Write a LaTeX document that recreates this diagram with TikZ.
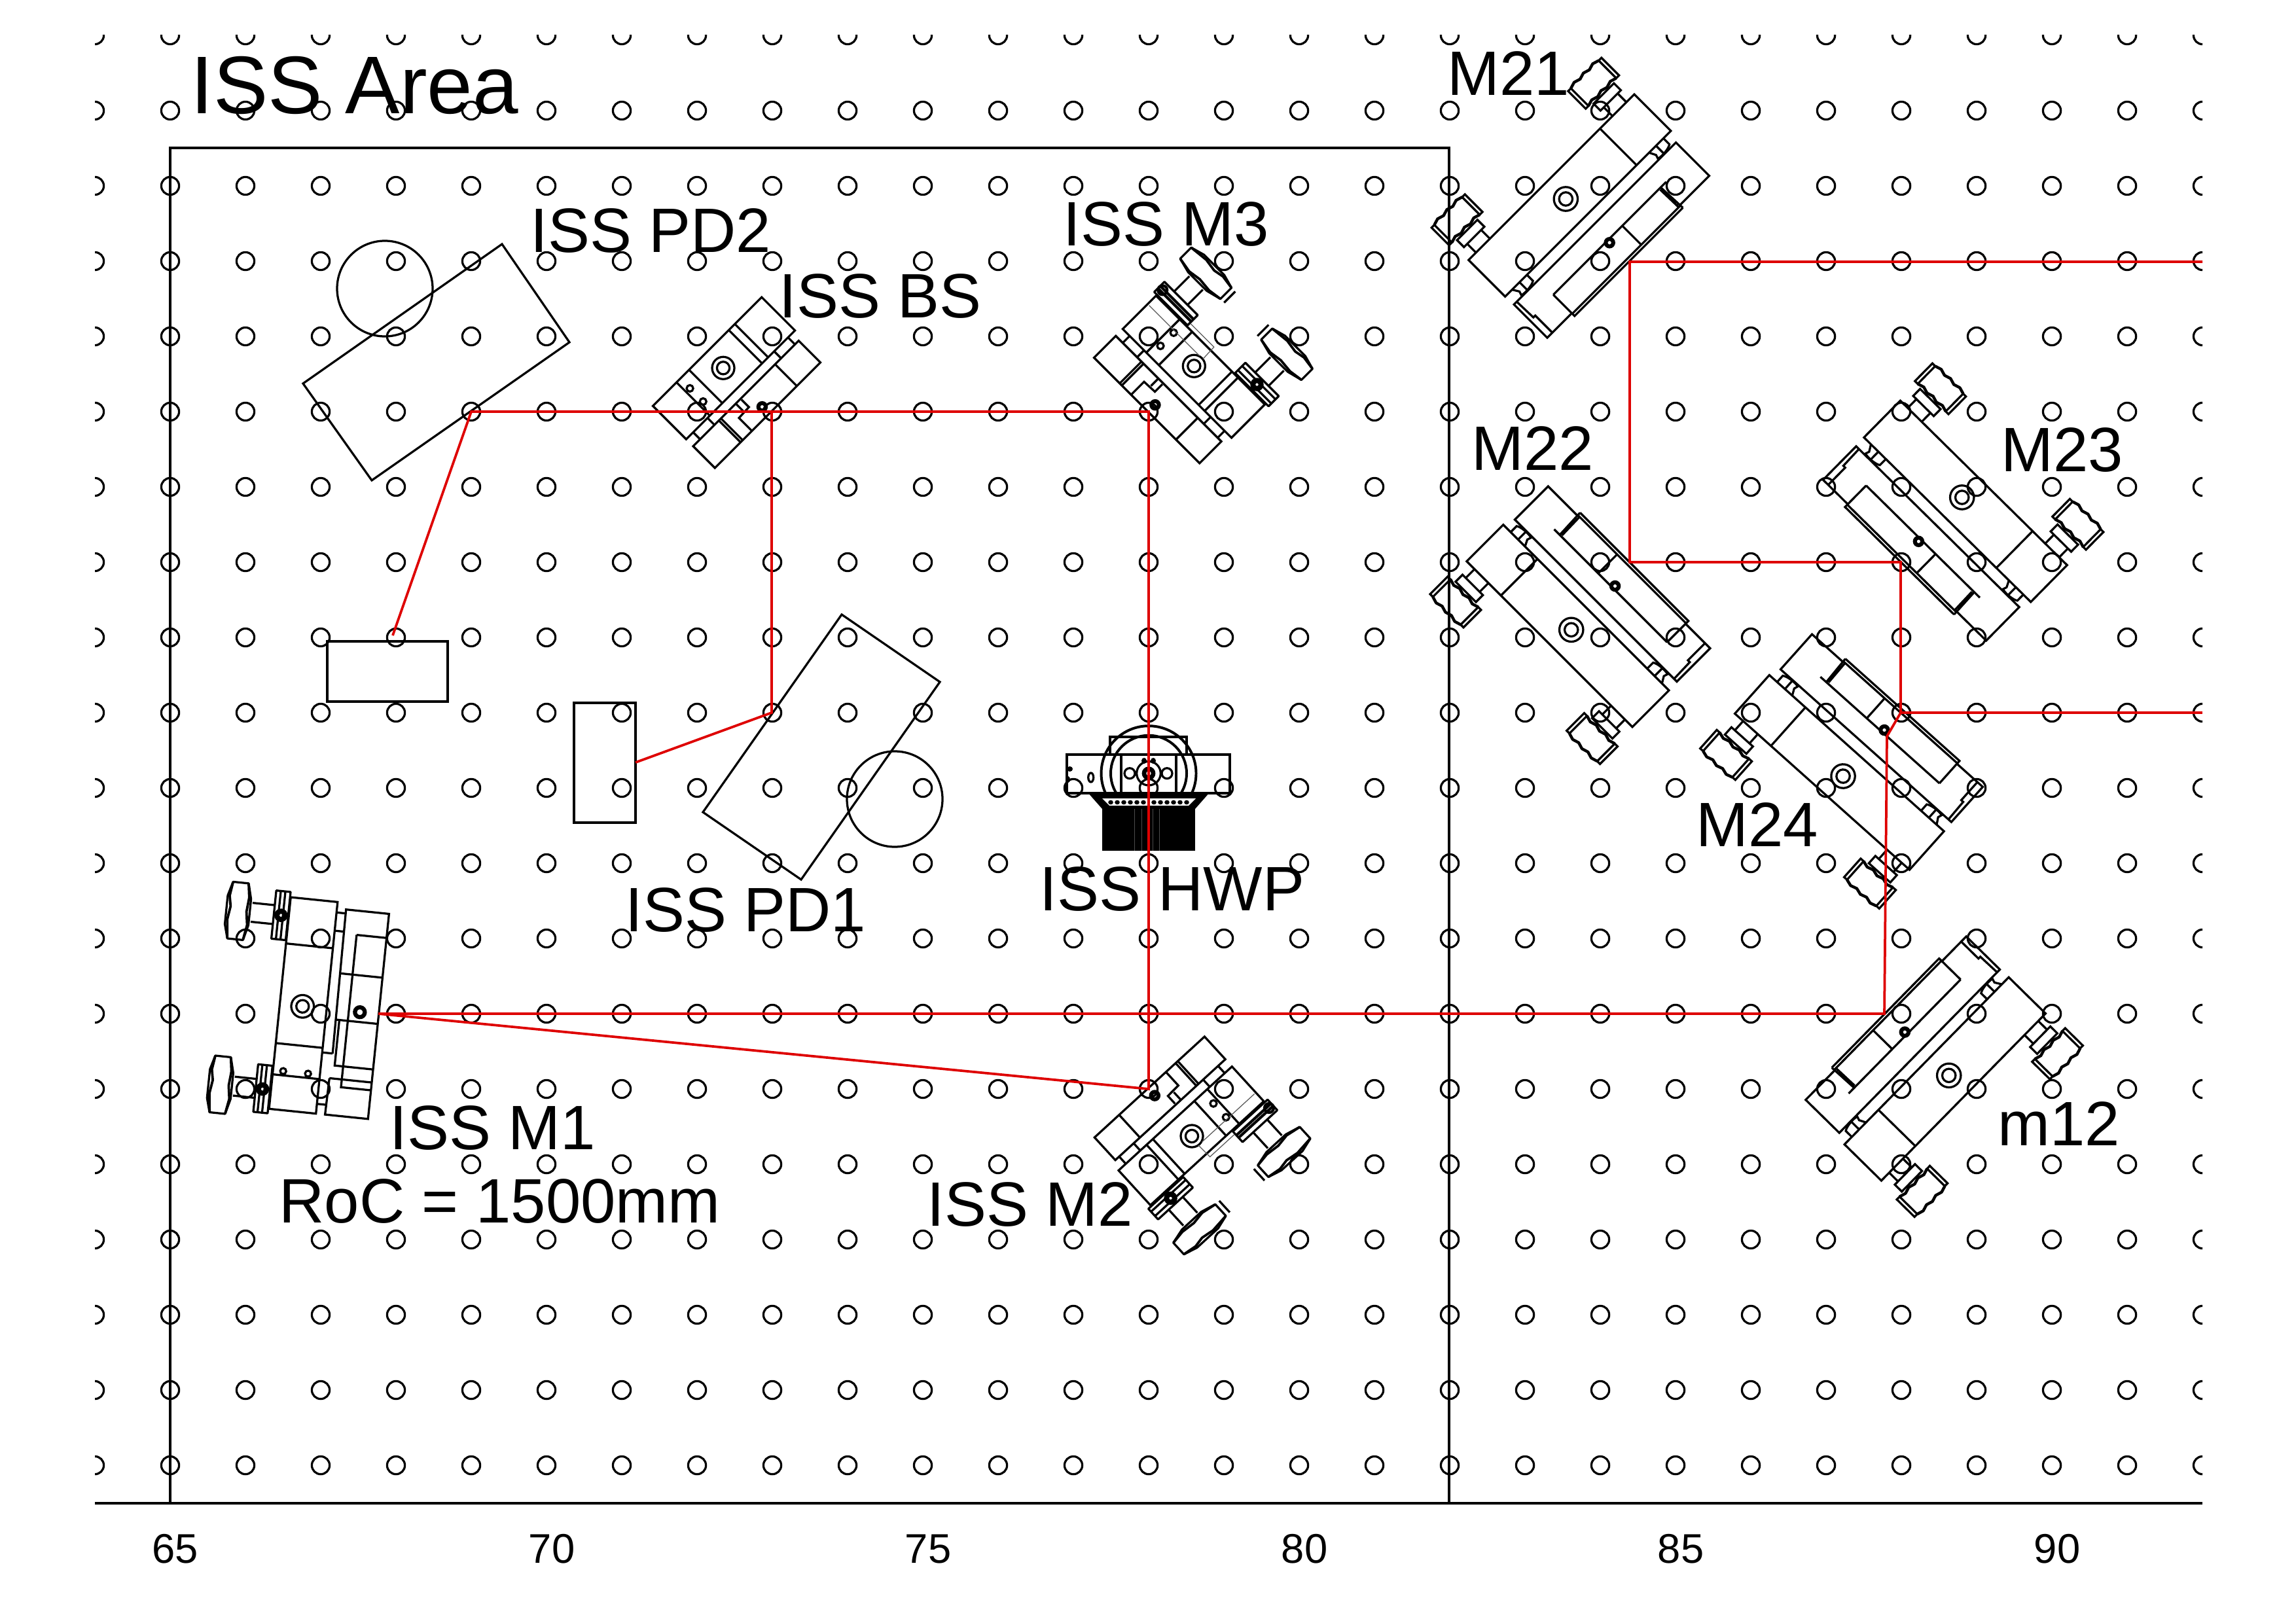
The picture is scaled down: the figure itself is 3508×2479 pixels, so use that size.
\documentclass[tikz,border=0pt]{standalone}
\usepackage{fontspec}
\setmainfont{Liberation Sans}
\definecolor{beamred}{RGB}{222,0,0}
\tikzset{
  lbl/.style={anchor=base west,inner sep=0pt,font=\fontsize{23}{25}\selectfont},
  ticklbl/.style={anchor=base,inner sep=0pt,font=\fontsize{15.2}{17}\selectfont},
  beam/.style={draw=beamred,line width=0.9pt,line join=miter},
  ballring/.style={line width=1.45pt},
  thinline/.style={draw=black!65,line width=0.3pt}
}
% ---------- knob of the small / M1 mounts
\newcommand{\knobA}[1]{%
\begin{scope}[shift={(0,#1)}]
 \draw[line join=round] (-125,-43.5)--(-101,-43.5)--(-95,-20)--(-95,20)--(-101,43.5)--(-125,43.5)--(-131,22)--(-131,-22)--cycle;
 \draw[line width=0.9pt,line join=round] (-125,-43)--(-128,-22)--(-125,-6)--(-128,14)--(-125,43);
 \draw[line width=0.9pt,line join=round] (-101,-43)--(-98,-22)--(-100,0)--(-97,20)--(-101,43);
 \draw (-92,-14.5)--(-59,-14.5) (-92,14.5)--(-59,14.5);
\end{scope}}
% ---------- knob of the long mounts
\newcommand{\knobB}[1]{%
\begin{scope}[shift={(0,#1)}]
 \draw (-114,-36)--(-76,-36)--(-76,-30)--(-114,-30)--cycle;
 \draw (-114,36)--(-76,36)--(-76,30)--(-114,30)--cycle;
 \draw[line width=1.05pt,line join=round] (-114,-30)--(-117,-20)--(-114,-10)--(-117,0)--(-114,10)--(-117,20)--(-114,30);
 \draw[line width=1.05pt,line join=round] (-76,-30)--(-79,-20)--(-76,-10)--(-79,0)--(-76,10)--(-79,20)--(-76,30);
 \draw (-73,-22) rectangle (-58,22);
 \draw (-58,-15)--(-39,-15) (-58,15)--(-39,15);
\end{scope}}
% ---------- long mount: M21, M22, M23, M24, m12
\newcommand{\mountB}[3]{%
\begin{scope}[shift={(#1,#2)},rotate={-(#3)}]
 \draw (-39,-187) rectangle (40,171);
 \draw (-39,-113)--(40,-113);
 \draw (130,-117)--(130,-180)--(58,-180)--(58,170)--(130,170)--(130,117);
 \draw (136,-117)--(136,117)--(90,117);
 \draw (131,-117)--(131,117);
 \draw (90,-127)--(90,117);
 \draw (90,-115)--(136,-117) (92,-112)--(131,-113);
 \draw (90,-32)--(131,-32);
 \draw (59,164)--(93,163)--(93,159)--(130,159);
 \draw (40,-171)--(53,-171) .. controls (57,-165) and (58,-150) .. (56,-143)--(50,-145)--(40,-140) (40,-155)--(55,-155);
 \draw (40,124)--(53,124) .. controls (57,130) and (58,145) .. (56,152)--(50,150)--(40,156) (40,140)--(55,140);
 \draw (0,0) circle (18.2) (0,0) circle (10.2);
 \draw[ballring] (94.5,0) circle (5.7);
 \knobB{-155}\knobB{140}
\end{scope}}
% ---------- short mount body: ISS BS, ISS M2, ISS M3
\newcommand{\mountS}[3]{%
\begin{scope}[shift={(#1,#2)},rotate={-(#3)}]
 \draw (-35,-118) rectangle (37,117);
 \foreach \q in {39,66,-47,-60}{\draw (-35,\q)--(37,\q);}
 \draw (52,-111) rectangle (99,117);
 \draw (52,61.5)--(99,61.5) (52,57)--(99,57) (52,-60)--(99,-60);
 \draw (98,37)--(71,37)--(70,14.5)--(54,14.5) (52,25)--(68,25);
 \foreach \q in {71,102,-73,-103}{\draw (37,\q)--(52,\q);}
 \draw (-14,58) circle (5) (14.5,58) circle (5);
 \draw (0,0) circle (17) (0,0) circle (9.6);
 \draw[ballring] (84,0) circle (5.7);
\end{scope}}
% ---------- knobs and adjusters of ISS M2, ISS M3
\newcommand{\knobsS}[3]{%
\begin{scope}[shift={(#1,#2)},rotate={-(#3)}]
 \draw[line join=round] (-59,51) rectangle (-37,123);
 \draw[line join=round] (-59,-124) rectangle (-37,-52);
 \draw[line width=1pt] (-50,51)--(-50,123) (-45,51)--(-45,123);
 \draw (-52,-124)--(-52,-52) (-43,-124)--(-43,-52);
 \draw[line width=1pt] (-48,116) circle (7);
 \draw[line width=1.9pt] (-48,-88) circle (6.2);
 \draw[thinline] (-17,114)--(-17,5) (-17,-2)--(-42,-1)--(-42,49);
 \knobA{87.5}\knobA{-87.5}
 \draw (-125,36)--(-101,36) (-125,-36)--(-101,-36);
\end{scope}}
% ---------- ISS M1
\newcommand{\mountL}[3]{%
\begin{scope}[shift={(#1,#2)},rotate={-(#3)}]
 \draw (-35,-164) rectangle (37,161);
 \foreach \q in {-93,60,108}{\draw (-35,\q)--(37,\q);}
 \draw (-19.4,101.5) circle (4.6) (18.8,101.5) circle (4.6);
 \draw (0,0) circle (17.3) (0,0) circle (9.6);
 \draw (53,67)--(51,-154)--(117,-154)--(117,161)--(51,161)--(52,105);
 \draw (71,-117)--(117,-117) (71,-117)--(71,117)--(117,117);
 \draw (51,-56)--(117,-56) (53,15)--(117,15);
 \draw (58,15)--(58,85)--(117,85) (52,105)--(117,105);
 \draw (37,-148)--(51,-148) (37,-120)--(51,-120) (37,67)--(53,67) (37,146)--(51,146);
 \draw[line width=1pt] (88,0) circle (8.6);
 \draw (88,0) circle (6);
 \draw[line join=round] (-58,-172) rectangle (-36,-98);
 \draw[line join=round] (-58.5,95) rectangle (-36.5,168);
 \draw (-51,-172)--(-51,-98) (-44,-172)--(-44,-98);
 \draw (-52,95)--(-52,168) (-45,95)--(-45,168);
 \draw[line width=1.9pt] (-47,-135) circle (6.3);
 \draw[line width=1.9pt] (-48,132) circle (6.3);
 \knobA{-135}\knobA{132}
\end{scope}}
\begin{document}
\begin{tikzpicture}[x=0.24pt,y=-0.24pt,line width=0.78pt,line join=miter]
\useasboundingbox (0,0) rectangle (3508,2479);
% pegboard holes
\begin{scope}
 \clip (145,54) rectangle (3365,2297);
 \foreach \kx in {0,...,28}{\foreach \ky in {0,...,19}{
   \draw ({145+115*\kx},{54+115*\ky}) circle (13.6);}}
\end{scope}
% axis and ISS area
\draw (145,2297)--(3365,2297);
\draw (260,2297)--(260,226)--(2214,226)--(2214,2297);
% photodiodes and beam dumps
\draw (767,373)--(870,523)--(568,734)--(463,586)--cycle;
\draw (588,441) circle (73);
\draw (500,980) rectangle (684,1072);
\draw (877,1074) rectangle (971,1257);
\draw (1286,939)--(1436,1042)--(1224,1344)--(1074,1241)--cycle;
\draw (1367,1221) circle (73);
% mounts
\mountL{462.3}{1537.7}{5.85}
\mountS{1105}{562.3}{45}
\mountS{1824.3}{559.3}{135}\knobsS{1824.3}{559.3}{135}
\mountS{1821}{1736}{227.5}\knobsS{1821}{1736}{227.5}
\mountB{2392.3}{304}{45}
\mountB{2400.7}{962.3}{-45}
\mountB{2997.7}{760}{134.6}
\mountB{2816}{1186}{-48.2}
\mountB{2977.7}{1643.3}{224.5}
% half-wave plate
\draw (1630,1153) rectangle (1879,1212);
\draw (1713,1153)--(1713,1212) (1797,1153)--(1797,1212);
\draw (1696,1153)--(1696,1126)--(1813,1126)--(1813,1153);
\draw[line width=0.95pt] (1755,1181.7) circle (72.5);
\draw[line width=0.95pt] (1755,1181.7) circle (58);
\draw (1726,1181.7) circle (8) (1783,1181.7) circle (8) (1755,1181.7) circle (18.3);
\draw[line width=1.6pt] (1755,1181.7) circle (7);
\draw (1666.7,1188) ellipse (4 and 7);
\fill (1748,1162.5) ellipse (4 and 4.5) (1762,1162.5) ellipse (4 and 4.5);
\fill (1634.5,1175) ellipse (4.5 and 4) (1632,1191) ellipse (3 and 5);
\fill (1662,1211)--(1848,1211)--(1826,1236)--(1684,1236)--cycle;
\fill[white] (1684,1220)--(1827,1220)--(1816,1231)--(1695,1231)--cycle;
\foreach \kb in {-58,-48,-38,-28,-18,-8,8,18,28,38,48,58}{
  \fill ({1755+\kb},1226) ellipse (3.8 and 3.4);}
\fill (1684,1236) rectangle (1826,1300);
\draw[draw=black!70,line width=0.2pt] (1733,1236)--(1733,1300) (1744,1236)--(1744,1300) (1761,1236)--(1761,1300) (1771,1236)--(1771,1300);
% beam path
\coordinate (bStart) at (578,1549);
\coordinate (bCorner) at (2879,1549);
\coordinate (bKinkA) at (2883,1125);
\coordinate (bKinkB) at (2904,1089);
\coordinate (bOutA) at (3365,1089);
\coordinate (bUp) at (2904,859);
\coordinate (bLeft) at (2490,859);
\coordinate (bTop) at (2490,400);
\coordinate (bOutB) at (3365,400);
\coordinate (bM2) at (1755,1664);
\coordinate (bM3) at (1755,629);
\coordinate (bBS) at (1179,629);
\coordinate (bPDtwo) at (720,629);
\coordinate (bDumpA) at (600,971);
\coordinate (bPDone) at (1179,1089);
\coordinate (bDumpB) at (971,1165);
\draw[beam] (bStart)--(bCorner)--(bKinkA)--(bKinkB)--(bUp)--(bLeft)--(bTop)--(bOutB);
\draw[beam] (bKinkB)--(bOutA);
\draw[beam] (bStart)--(bM2)--(bM3)--(bPDtwo)--(bDumpA);
\draw[beam] (bBS)--(bPDone)--(bDumpB);
% labels
\node[lbl,font=\fontsize{30}{32}\selectfont] (tArea) at (290,174) {ISS Area};
\node[lbl] (tMtwoone) at (2210,146) {M21};
\node[lbl] (tPDtwo) at (809,385) {ISS PD2};
\node[lbl] (tBS) at (1189,485) {ISS BS};
\node[lbl] (tMthree) at (1623,375) {ISS M3};
\node[lbl] (tMtwotwo) at (2247,718) {M22};
\node[lbl] (tMtwothree) at (3056,720) {M23};
\node[lbl] (tMtwofour) at (2590,1293) {M24};
\node[lbl] (tPDone) at (954,1423) {ISS PD1};
\node[lbl] (tHWP) at (1587,1391) {ISS HWP};
\node[lbl] (tMone) at (594,1756) {ISS M1};
\node[lbl] (tRoC) at (425,1868) {RoC = 1500mm};
\node[lbl] (tMtwo) at (1415,1873) {ISS M2};
\node[lbl] (tMonetwo) at (3051,1750) {m12};
\foreach \val/\kx in {65/0,70/1,75/2,80/3,85/4,90/5}{
  \node[ticklbl] (tick\val) at ({268+575*\kx},2388) {\val};}
\end{tikzpicture}
\end{document}
